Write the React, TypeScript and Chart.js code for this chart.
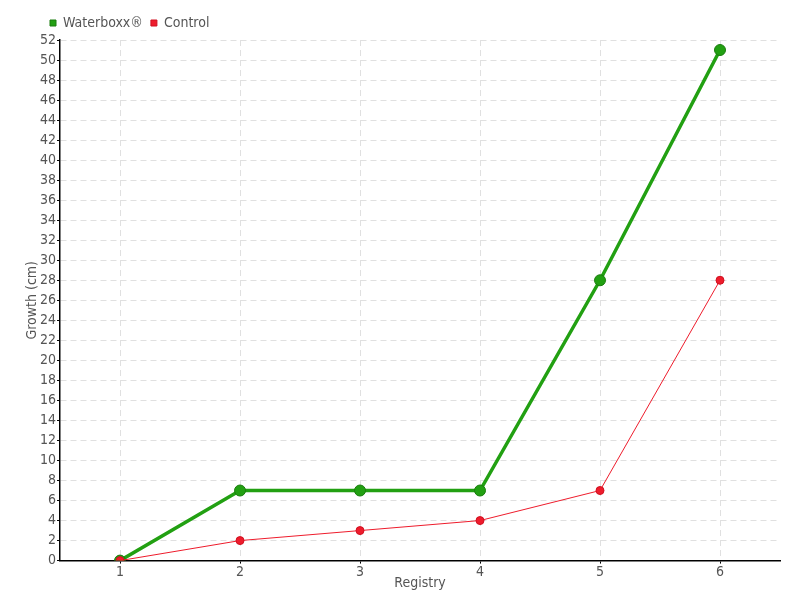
import React, { useEffect, useRef } from "react";
import { Chart, registerables } from "chart.js";

Chart.register(...registerables);

const categories = ["1", "2", "3", "4", "5", "6"];
const waterboxx = [0, 7, 7, 7, 28, 51];
const control = [0, 2, 3, 4, 7, 28];

const FONT = "'DejaVu Sans Condensed', 'Liberation Sans Narrow', sans-serif";
const TXT = "#555555";

const shiftLegend = {
  id: "shiftLegend",
  afterLayout(chart: any) {
    const lg = chart.legend;
    if (lg) {
      lg.left += 21;
      lg.right += 21;
    }
  },
};

export default function App() {
  const ref = useRef<HTMLCanvasElement>(null);
  useEffect(() => {
    document.body.style.margin = "0";
    const ctx = ref.current!.getContext("2d")!;
    const chart = new Chart(ctx, {
      type: "line",
      data: {
        labels: categories,
        datasets: [
          {
            label: "Waterboxx®",
            data: waterboxx,
            borderColor: "#22a012",
            backgroundColor: "#22a012",
            pointBackgroundColor: "#22a012",
            pointBorderColor: "#1a7d0e",
            pointBorderWidth: 1,
            borderWidth: 3.5,
            pointRadius: 5.5,
            fill: false,
            tension: 0,
            order: 1,
          },
          {
            label: "Control",
            data: control,
            borderColor: "#ee1c2c",
            backgroundColor: "#ee1c2c",
            pointBackgroundColor: "#ee1c2c",
            pointBorderColor: "#d01020",
            pointBorderWidth: 1,
            borderWidth: 1,
            pointRadius: 4,
            fill: false,
            tension: 0,
            order: 0,
          },
        ],
      },
      plugins: [shiftLegend],
      options: {
        animation: false,
        responsive: false,
        layout: { padding: { left: 21, right: 20, top: 8, bottom: 10 } },
        plugins: {
          tooltip: { enabled: false },
          legend: {
            position: "top",
            align: "start",
            labels: {
              usePointStyle: true,
              pointStyle: "rect",
              boxWidth: 6,
              boxHeight: 6,
              padding: 8,
              color: TXT,
              font: { family: FONT, size: 14 },
              sort: (a: any, b: any) => a.datasetIndex - b.datasetIndex,
            },
          },
        },
        scales: {
          x: {
            offset: true,
            grid: {
              offset: false,
              color: "#e0e0e0",
              tickColor: "#000",
              tickLength: 3,
            },
            border: { color: "#000", width: 1.5, dash: [6, 4] as any },
            ticks: { color: TXT, font: { family: FONT, size: 14, lineHeight: 1.1 }, padding: 1 },
            title: {
              display: true,
              text: "Registry",
              color: TXT,
              font: { family: FONT, size: 14, lineHeight: 1 },
              padding: { top: -5, bottom: 0 },
            },
          },
          y: {
            min: 0,
            max: 52,
            grid: {
              color: "#e0e0e0",
              tickColor: "#000",
              tickLength: 3,
            },
            border: { color: "#000", width: 1.5, dash: [6, 4] as any },
            ticks: {
              stepSize: 2,
              color: TXT,
              font: { family: FONT, size: 14 },
              padding: 1,
              autoSkip: false,
            },
            title: {
              display: true,
              text: "Growth (cm)",
              color: TXT,
              font: { family: FONT, size: 14, lineHeight: 1 },
              padding: { top: 4, bottom: 0 },
            },
          },
        },
      },
    });
    return () => chart.destroy();
  }, []);
  return <canvas ref={ref} width={800} height={600} style={{ display: "block" }} />;
}
